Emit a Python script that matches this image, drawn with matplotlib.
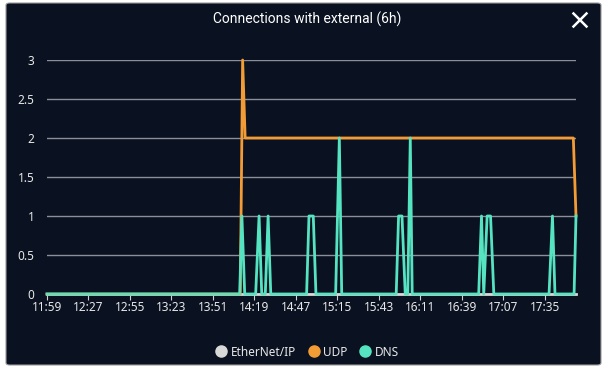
import matplotlib
matplotlib.use("Agg")
import matplotlib.pyplot as plt
from matplotlib.lines import Line2D
from matplotlib.patches import FancyBboxPatch

# time in minutes since 11:59
tick_minutes = [0, 28, 56, 84, 112, 140, 168, 196, 224, 252, 280, 308, 336]
tick_labels = ["11:59", "12:27", "12:55", "13:23", "13:51", "14:19", "14:47",
               "15:15", "15:43", "16:11", "16:39", "17:07", "17:35"]
y_ticks = [0, 0.5, 1, 1.5, 2, 2.5, 3]
y_labels = ["0", "0.5", "1", "1.5", "2", "2.5", "3"]

eth_t = [0, 357.2]
eth_v = [0, 0]

udp_t = [0, 130.5, 132.1, 133.8, 355.4, 357.2]
udp_v = [0, 0, 3, 2, 2, 1]

dns_t = [0, 130.1, 131.6, 133.5, 140.9, 143.2, 145.0, 147.4, 149.3, 151.1,
         175.3, 176.9, 179.8, 181.6, 194.9, 197.4, 199.0,
         235.8, 237.4, 239.7, 241.9, 243.6, 245.3, 246.6,
         291.5, 293.4, 294.9, 297.2, 299.5, 301.7,
         339.0, 341.3, 343.0, 355.9, 357.2]
dns_v = [0, 0, 1, 0, 0, 1, 0, 0, 1, 0,
         0, 1, 1, 0, 0, 2, 0,
         0, 1, 1, 0, 0, 2, 0,
         0, 1, 0, 1, 1, 0,
         0, 1, 0, 0, 1]

series_names = ["EtherNet/IP", "UDP", "DNS"]
series_colors = ["#d9d9d9", "#f39c35", "#55e3c1"]

bg = "#0a1120"
txt = "#e8e8e8"
grid = "#8a8f99"

plt.rcParams["font.family"] = ["Noto Sans", "DejaVu Sans"]

fig = plt.figure(figsize=(6.08, 3.72), dpi=100)
fig.patch.set_facecolor("white")

# dark card behind everything
card = FancyBboxPatch((6 / 608, 1 - 365 / 372), 595 / 608, 362 / 372,
                      boxstyle="round,pad=0,rounding_size=0.006",
                      transform=fig.transFigure, facecolor=bg,
                      edgecolor="#9a9a9a", linewidth=0.8, zorder=-10)
fig.add_artist(card)

fig.text(0.505, 1 - 19 / 372, "Connections with external (6h)", color="white",
         fontsize=10, family="Roboto", ha="center", va="center")

# close icon
cx, cy, r = 580, 20, 6.5
for dx in (-1, 1):
    fig.add_artist(Line2D([(cx - r) / 608, (cx + r) / 608],
                          [1 - (cy - dx * r) / 372, 1 - (cy + dx * r) / 372],
                          transform=fig.transFigure, color="white", linewidth=1.8))

ax = fig.add_axes([47 / 608, 1 - 294 / 372, 529 / 608, 234 / 372])
ax.patch.set_alpha(0)

for t, v, c in zip([eth_t, udp_t, dns_t], [eth_v, udp_v, dns_v], series_colors):
    ax.plot(t, v, color=c, linewidth=2, clip_on=False, zorder=3)

ax.set_xlim(0, 357.2)
ax.set_ylim(0, 3)
ax.set_yticks(y_ticks)
ax.set_yticklabels(y_labels)
ax.set_xticks(tick_minutes)
ax.set_xticklabels(tick_labels)
ax.yaxis.grid(True, color=grid, linewidth=1)
ax.set_axisbelow(True)
for s in ["top", "right", "left"]:
    ax.spines[s].set_visible(False)
ax.spines["bottom"].set_color(grid)
ax.tick_params(axis="y", length=0, pad=9, labelcolor=txt, labelsize=8.5)
ax.tick_params(axis="x", length=4, color="#d0d0d0", pad=1, labelcolor=txt, labelsize=8.5)

handles = [Line2D([], [], marker="o", linestyle="none", markersize=8,
                  markerfacecolor=c, markeredgecolor=c) for c in series_colors]
leg = fig.legend(handles, series_names, loc="center", bbox_to_anchor=(0.505, 1 - 352 / 372),
                 ncol=3, frameon=False, handletextpad=0.3, columnspacing=1.0,
                 fontsize=8.5, handlelength=1.0)
for t in leg.get_texts():
    t.set_color(txt)

fig.savefig("out.png", dpi=100, facecolor=fig.get_facecolor())
